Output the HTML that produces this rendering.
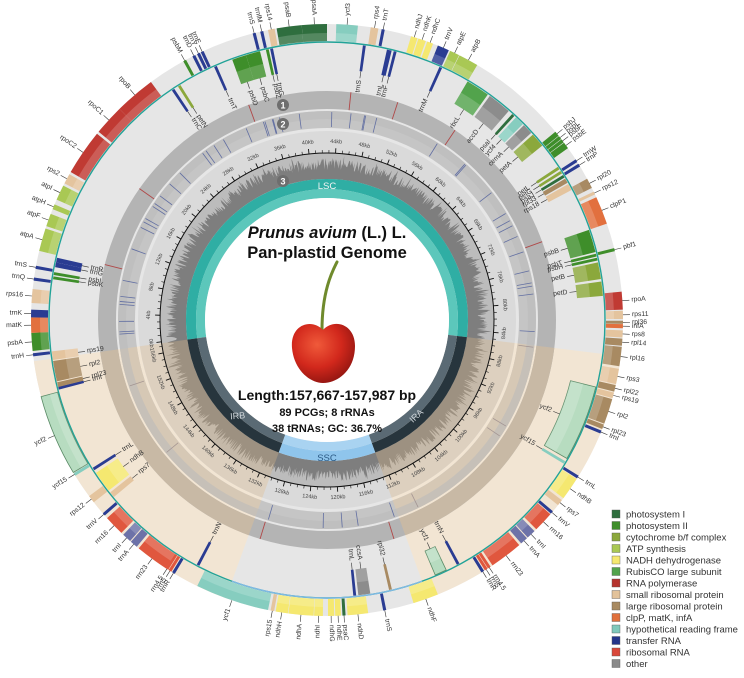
<!DOCTYPE html>
<html><head><meta charset="utf-8">
<style>
html,body{margin:0;padding:0;background:#fff;}
svg{display:block;font-family:"Liberation Sans",sans-serif;}
</style></head>
<body>
<svg id="s" width="744" height="678" viewBox="0 0 744 678" xmlns="http://www.w3.org/2000/svg">
<g id="g"></g>
<!-- center text -->
<text x="327" y="238" text-anchor="middle" font-size="16.5" font-weight="bold" fill="#111"><tspan font-style="italic">Prunus avium</tspan> (L.) L.</text>
<text x="327" y="258" text-anchor="middle" font-size="16.5" font-weight="bold" fill="#111">Pan-plastid Genome</text>
<text x="327" y="400" text-anchor="middle" font-size="14" font-weight="bold" fill="#111">Length:157,667-157,987 bp</text>
<text x="327" y="416" text-anchor="middle" font-size="11" font-weight="bold" fill="#111">89 PCGs; 8 rRNAs</text>
<text x="327" y="432" text-anchor="middle" font-size="11" font-weight="bold" fill="#111">38 tRNAs; GC: 36.7%</text>
<!-- cherry -->
<defs>
<radialGradient id="ch" cx="0.4" cy="0.35" r="0.7">
<stop offset="0" stop-color="#f05a3a"/><stop offset="0.55" stop-color="#d2281c"/><stop offset="1" stop-color="#8e1410"/>
</radialGradient>
</defs>
<path d="M337,262 C333,270 322,290 322,330" stroke="#6f8a2c" stroke-width="3" fill="none" stroke-linecap="round"/>
<path d="M323,330 C312,318 290,324 292,348 C294,370 310,383 323,383 C338,383 355,370 355,346 C355,324 334,318 323,330 Z" fill="url(#ch)"/>
<!-- legend -->
<g id="lg" font-size="9.5" fill="#333"></g>
</svg>
<script>
(function(){
const NS="http://www.w3.org/2000/svg";
const g=document.getElementById('g');
const cx=327,cy=320;
function P(r,a){const t=a*Math.PI/180;return [cx+r*Math.sin(t),cy-r*Math.cos(t)];}
function el(tag,attrs,txt){const e=document.createElementNS(NS,tag);for(const k in attrs)e.setAttribute(k,attrs[k]);if(txt!==undefined)e.textContent=txt;g.appendChild(e);return e;}
function sec(r1,r2,a1,a2){
 const L=(a2-a1)>180?1:0;const p1=P(r2,a1),p2=P(r2,a2),p3=P(r1,a2),p4=P(r1,a1);
 return `M${p1[0]},${p1[1]}A${r2},${r2} 0 ${L} 1 ${p2[0]},${p2[1]}L${p3[0]},${p3[1]}A${r1},${r1} 0 ${L} 0 ${p4[0]},${p4[1]}Z`;}
function S(r1,r2,a1,a2,fill,extra){const o={d:sec(r1,r2,a1,a2),fill:fill};if(extra)Object.assign(o,extra);return el('path',o);}
let sd=7;function rnd(){sd=(sd*16807)%2147483647;return sd/2147483647;}
const IRA=[97,160],IRB=[200,262],SSC=[160,200];
const inIR=a=>(a>=97&&a<=160)||(a>=200&&a<=262);
// background
el('circle',{cx:cx,cy:cy,r:296,fill:'#e6e6e6'});
S(0,296,IRA[0],IRA[1],'#f2e5d3');S(0,296,IRB[0],IRB[1],'#f2e5d3');
// ring1
el('circle',{cx:cx,cy:cy,r:220,fill:'none',stroke:'#b4b4b4','stroke-width':18});
S(211,229,IRA[0],IRA[1],'#c8b9a5');S(211,229,IRB[0],IRB[1],'#c8b9a5');
// ring2
el('circle',{cx:cx,cy:cy,r:200.5,fill:'none',stroke:'#c5c5c5','stroke-width':17});
S(192,209,IRA[0],IRA[1],'#d6c8b5');S(192,209,IRB[0],IRB[1],'#d6c8b5');
el('circle',{cx:cx,cy:cy,r:205,fill:'none',stroke:'#bababa','stroke-width':8,opacity:0.6});
// ring3 bg
el('circle',{cx:cx,cy:cy,r:165,fill:'none',stroke:'#dadada','stroke-width':48});
S(141,189,IRA[0],IRA[1],'#ddd0bf');S(141,189,IRB[0],IRB[1],'#ddd0bf');
// GC base
el('circle',{cx:cx,cy:cy,r:154,fill:'none',stroke:'#bcbcbc','stroke-width':26});
// GC spikes
let pts=[];for(let i=0;i<=1440;i++){const a=i*0.25;const r=150+rnd()*12+(rnd()<0.1?4:0);const p=P(Math.min(r,166.5),a);pts.push(p[0].toFixed(1)+','+p[1].toFixed(1));}
let inner=[];for(let i=1440;i>=0;i--){const p=P(141,i*0.25);inner.push(p[0].toFixed(1)+','+p[1].toFixed(1));}
el('path',{d:'M'+pts.join('L')+'L'+inner.join('L')+'Z',fill:'#7e7e7e'});
S(141,167,IRA[0],IRA[1],'rgba(215,180,135,0.35)');S(141,167,IRB[0],IRB[1],'rgba(215,180,135,0.35)');
// lines in ring2 (blue) and ring1 (red)
for(let i=0;i<80;i++){let a=rnd()*360;if(inIR(a)&&rnd()<0.7)continue;const p1=P(193,a),p2=P(208,a);
 el('line',{x1:p1[0],y1:p1[1],x2:p2[0],y2:p2[1],stroke:inIR(a)?'#9a8a8a':'#4a5a9a','stroke-width':0.8,opacity:0.8});}
[6,18,34,70,163,197,284,305,340].forEach(a=>{const p1=P(211,a),p2=P(229,a);el('line',{x1:p1[0],y1:p1[1],x2:p2[0],y2:p2[1],stroke:'#b04848','stroke-width':0.9});});
// tick circle
el('circle',{cx:cx,cy:cy,r:167,fill:'none',stroke:'#111','stroke-width':1});
const k0=262.5,deg=360/157.7;
for(let kb=0;kb<=157;kb++){const a=k0+kb*deg;const big=kb%4==0;const p1=P(167,a),p2=P(big?172:170,a);
 el('line',{x1:p1[0],y1:p1[1],x2:p2[0],y2:p2[1],stroke:'#111','stroke-width':big?0.9:0.6});
 if(big){const aa=((a%360)+360)%360;const p=P(178,aa);let rot=aa;if(aa>90&&aa<270)rot=aa+180;
  el('text',{x:p[0],y:p[1],'font-size':5.5,fill:'#444','text-anchor':'middle','dominant-baseline':'central',transform:`rotate(${rot} ${p[0]} ${p[1]})`},kb+'kb');}}
// inner quadripartite ring
S(131,141,262,457,'#2fae a4'.replace(' ',''));S(122,131,262,457,'#5cc7bb');
S(131,141,IRA[0],IRA[1],'#27353d');S(122,131,IRA[0],IRA[1],'#5a6a74');
S(131,141,IRB[0],IRB[1],'#27353d');S(122,131,IRB[0],IRB[1],'#5a6a74');
S(131,141,SSC[0],SSC[1],'#8fc5ec');S(122,131,SSC[0],SSC[1],'#a9d3f1');
el('circle',{cx:cx,cy:cy,r:122,fill:'#fff'});
el('text',{x:327,y:189,'font-size':9.5,fill:'#f4f4f4','text-anchor':'middle'},'LSC');
el('text',{x:327,y:461,'font-size':9.5,fill:'#2c5a85','text-anchor':'middle'},'SSC');
(function(){let p=P(131,223);el('text',{x:p[0],y:p[1],'font-size':9,fill:'#d0d6da','text-anchor':'middle','dominant-baseline':'central',transform:`rotate(${223-180+90-90+ -47} ${p[0]} ${p[1]})`},'IRB');
 p=P(131,137);el('text',{x:p[0],y:p[1],'font-size':9,fill:'#d0d6da','text-anchor':'middle','dominant-baseline':'central',transform:`rotate(-43 ${p[0]} ${p[1]})`},'IRA');})();
// circled numbers
[[283,105,'1'],[283,124,'2'],[283,181,'3']].forEach(n=>{el('circle',{cx:n[0],cy:n[1],r:6,fill:'#6e6e6e'});el('text',{x:n[0],y:n[1]+3.3,'font-size':9,'font-weight':'bold',fill:'#fff','text-anchor':'middle'},n[2]);});
// gene ring line
el('circle',{cx:cx,cy:cy,r:278,fill:'none',stroke:'#22a398','stroke-width':1.4});
S(277.3,278.7,SSC[0],SSC[1],'#7fb9e3');
const C={PSI:'#2f6e3e',PSII:'#3e8e2a',CYT:'#8ba83c',ATP:'#a9c854',NDH:'#f5e870',RBC:'#52a34c',RPO:'#c03a33',RPS:'#e4c49e',RPL:'#a88a62',CLP:'#e2703e',YCF:'#86cdbf',TRN:'#2a3c92',RRN:'#e0573e',OTH:'#8c8c8c',YC2:'#b7dcc0',TRP:'#6d72a8'};
const G=[
['psbA',264,267.5,'o','PSII'],['trnH',263,0,'o','TRN'],['matK',267.5,270.5,'o','CLP'],['trnK',270.5,272,'o','TRN'],
['rps16',273.3,276,'o','RPS'],['trnQ',277.7,0,'o','TRN'],['trnS',280,0,'o','TRN'],
['psbK',278.5,0,'i','PSII'],['psbI',279.4,0,'i','PSII'],['trnG',281,282,'i','TRN'],['trnR',282,283,'i','TRN'],
['atpA',283.5,288,'o','ATP'],['atpF',288.5,291,'o','ATP'],['atpH',292,293,'o','ATP'],['atpI',294,297,'o','ATP'],['rps2',297.5,299.5,'o','RPS'],['rpoC2',300,309,'o','RPO'],['rpoC1',309.5,315.5,'o','RPO'],['rpoB',315.5,323.5,'o','RPO'],
['trnC',326,0,'i','TRN'],['petN',327.5,0,'i','CYT'],
['psbM',331,0,'o','PSII'],['trnD',333,0,'o','TRN'],['trnY',334,0,'o','TRN'],['trnE',334.8,0,'o','TRN'],
['trnT',336,0,'i','TRN'],['psbD',340,343,'i','PSII'],['psbC',343,346,'i','PSII'],['psbZ',347.3,0,'i','PSII'],['trnG',348.2,0,'i','TRN'],
['trnS',345.5,0,'o','TRN'],['trnfM',347,0,'o','TRN'],['rps14',348.5,349.8,'o','RPS'],['psaB',350.2,355.1,'o','PSI'],['psaA',355.1,360,'o','PSI'],
['ycf3',1.8,6,'o','YCF'],['rps4',8.5,10,'o','RPS'],['trnT',10.7,0,'o','TRN'],
['trnS',7.5,0,'i','TRN'],['trnL',12.5,13.5,'i','TRN'],['trnF',14,0,'i','TRN'],
['ndhJ',16.5,17.8,'o','NDH'],['ndhK',18,19.5,'o','NDH'],['ndhC',19.8,21,'o','NDH'],['trnV',22,24.3,'o','TRN'],
['atpE',24.6,26.5,'o','ATP'],['atpB',26.6,30.5,'o','ATP'],
['trnM',24,0,'i','TRN'],['rbcL',30.5,35.5,'i','RBC'],['accD',36,41,'i','OTH'],['psaI',42,0,'i','PSI'],['ycf4',43,45,'i','YCF'],['cemA',45.3,47.5,'i','OTH'],['petA',48,51,'i','CYT'],
['psbJ',50.5,51.5,'o','PSII'],['psbL',51.6,52.3,'o','PSII'],['psbF',52.4,53.1,'o','PSII'],['psbE',53.2,54.5,'o','PSII'],['trnW',57.2,0,'o','TRN'],['trnP',58.2,0,'o','TRN'],
['petL',56.5,0,'i','CYT'],['petG',57.5,0,'i','CYT'],['psaJ',58.5,0,'i','PSI'],['rpl33',59.3,60.3,'i','RPL'],['rps18',60.6,62,'i','RPS'],
['rpl20',61.5,63.5,'o','RPL'],['rps12',64.3,64.9,'o','RPS'],['clpP1',65.5,71,'o','CLP'],
['psbB',71,75.8,'i','PSII'],['psbT',76.2,0,'i','PSII'],['psbH',77,77.6,'i','PSII'],['petB',78,81.5,'i','CYT'],['petD',82,85,'i','CYT'],['pbf1',76,0,'o','PSII'],
['rpoA',84.5,88,'o','RPO'],['rps11',88.2,89.8,'o','RPS'],['rpl36',90.2,0,'o','RPL'],['infA',90.8,91.6,'o','CLP'],['rps8',92,93.4,'o','RPS'],['rpl14',93.6,95,'o','RPL'],['rpl16',95.2,99,'o','RPL'],['rps3',99.5,102.5,'o','RPS'],['rpl22',102.7,104,'o','RPL'],['rps19',104.2,105.3,'o','RPS'],['rpl2',105.5,110.5,'o','RPL'],['rpl23',110.7,111.6,'o','RPL'],['trnI',112,0,'o','TRN'],
['ycf2',104,120,'i','YC2'],['ycf15',120.7,0,'i','YCF'],
['trnL',121.8,0,'o','TRN'],['ndhB',122.5,127,'o','NDH'],['rps7',127.5,128.7,'o','RPS'],
['trnV',130.3,0,'o','TRN'],['rrn16',131,135,'o','RRN'],['trnI',135.5,137.3,'o','TRP'],['trnA',137.5,139,'o','TRP'],['rrn23',139.5,146,'o','RRN'],['rrn4.5',146.5,0,'o','RRN'],['rrn5',147.2,0,'o','RRN'],['trnR',148,0,'o','TRN'],
['trnN',151.5,0,'i','TRN'],['ycf1',154.5,157,'i','YC2'],['ndhF',158,163,'o','NDH'],
['rpl32',166.5,0,'i','RPL'],['trnS',168.5,0,'o','TRN'],['ccsA',171,173.5,'i','OTH'],['trnL',174,0,'i','TRN'],
['ndhD',172,176,'o','NDH'],['psaC',176.4,177,'o','PSI'],['ndhE',177.3,178.4,'o','NDH'],['ndhG',178.6,179.8,'o','NDH'],['ndhI',180.8,182.5,'o','NDH'],['ndhA',182.6,187.5,'o','NDH'],['ndhH',187.6,190,'o','NDH'],['rps15',190.3,191,'o','RPS'],
['ycf1',191.5,206,'o','YCF'],
['trnN',207.5,0,'i','TRN'],['trnR',211,0,'o','TRN'],['rrn5',211.8,0,'o','RRN'],['rrn4.5',212.5,0,'o','RRN'],['rrn23',213,219.5,'o','RRN'],['trnA',220,221.5,'o','TRP'],['trnI',221.7,223.5,'o','TRP'],['rrn16',224,228,'o','RRN'],['trnV',228.7,0,'o','TRN'],
['rps12',232,233.5,'o','RPS'],['rps7',230.3,231.5,'i','RPS'],['ndhB',232,236.5,'i','NDH'],['trnL',237.2,0,'i','TRN'],
['ycf15',238.3,0,'o','YCF'],['ycf2',239,255,'o','YC2'],
['trnI',255.5,0,'i','TRN'],['rpl23',256,257,'i','RPL'],['rpl2',257.2,261.5,'i','RPL'],['rps19',261.7,263.5,'i','RPS']
];
G.forEach(x=>{let [n,a1,a2,t,c]=x;let line=false;if(!a2){a2=a1+0.55;a1=a1-0.05;line=true;}
 const r1=t=='o'?279:251,r2=t=='o'?296:277;
 const extra=c=='YC2'?{stroke:'#5a8a66','stroke-width':0.8}:{};
 S(r1,r2,a1,a2,C[c],extra);
 if(!line&&(a2-a1)>1.5){S(t=='o'?279:251,t=='o'?287:264,a1,a2,'rgba(255,255,255,0.18)');}
 const a=((a1+a2)/2)%360;
 let pa,pb,pt,rot,anc;
 if(t=='o'){pa=P(296,a);pb=P(303,a);pt=P(305,a);if(a<180){rot=a-90;anc='start';}else{rot=a+90;anc='end';}}
 else{pa=P(251,a);pb=P(244,a);pt=P(242,a);if(a<180){rot=a-90;anc='end';}else{rot=a+90;anc='start';}}
 el('line',{x1:pa[0],y1:pa[1],x2:pb[0],y2:pb[1],stroke:'#333','stroke-width':0.6});
 el('text',{x:pt[0],y:pt[1],'font-size':6.8,fill:'#333','text-anchor':anc,'dominant-baseline':'central',transform:`rotate(${rot} ${pt[0]} ${pt[1]})`},n);
});
// legend
const lg=document.getElementById('lg');
const L=[['photosystem I','#2f6e3e'],['photosystem II','#3e8e2a'],['cytochrome b/f complex','#8ba83c'],['ATP synthesis','#a9c854'],['NADH dehydrogenase','#f5e870'],['RubisCO large subunit','#52a34c'],['RNA polymerase','#b5332e'],['small ribosomal protein','#e2c29a'],['large ribosomal protein','#a88a62'],['clpP, matK, infA','#e0703c'],['hypothetical reading frame','#7fc8bb'],['transfer RNA','#23358a'],['ribosomal RNA','#d9473a'],['other','#8a8a8a']];
L.forEach((it,i)=>{const y=514+i*11.5;const r=document.createElementNS(NS,'rect');r.setAttribute('x',612);r.setAttribute('y',y-4);r.setAttribute('width',8);r.setAttribute('height',8);r.setAttribute('fill',it[1]);r.setAttribute('stroke','#555');r.setAttribute('stroke-width',0.4);lg.appendChild(r);
 const t=document.createElementNS(NS,'text');t.setAttribute('x',626);t.setAttribute('y',y+3.5);t.textContent=it[0];lg.appendChild(t);});
})();
</script>
</body></html>
